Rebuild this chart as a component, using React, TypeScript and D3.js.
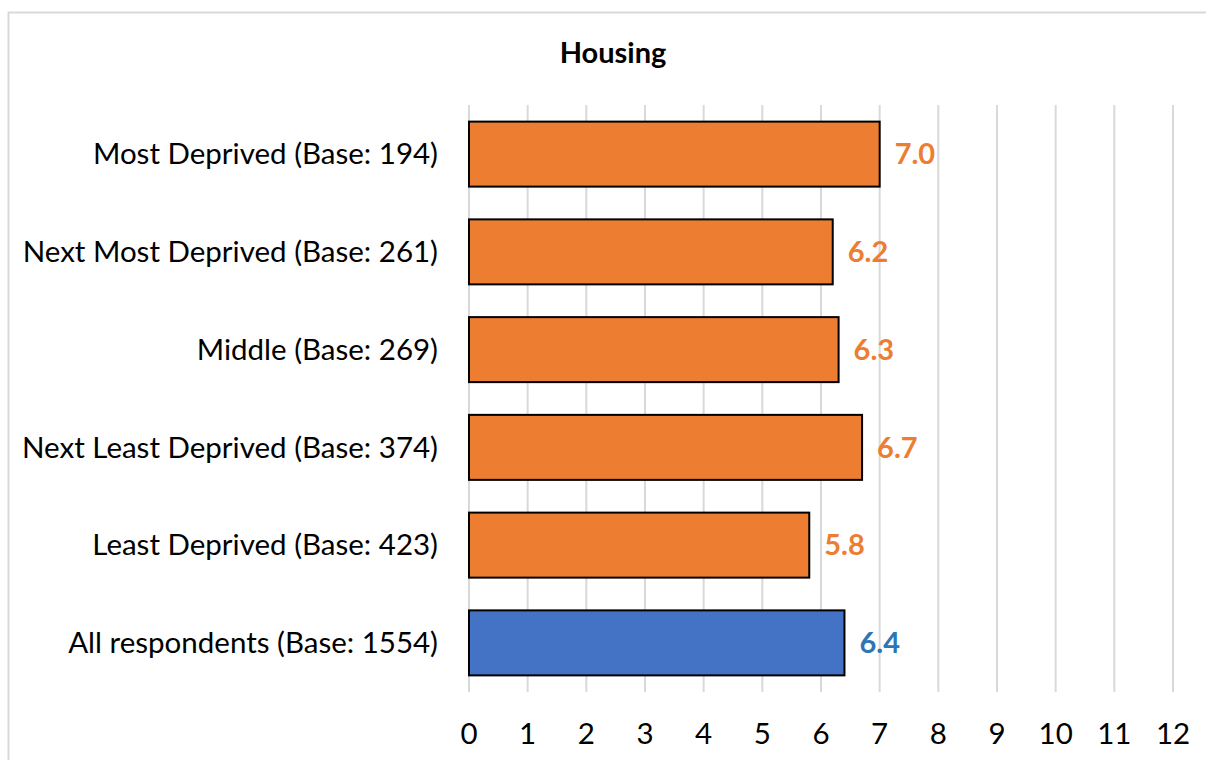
import React, { useEffect, useRef } from "react";
import * as d3 from "d3";

const width = 1206;
const height = 760;
const margin = { top: 105, right: 33, bottom: 68, left: 469 };

const categories = [
  "Most Deprived (Base: 194)",
  "Next Most Deprived (Base: 261)",
  "Middle (Base: 269)",
  "Next Least Deprived (Base: 374)",
  "Least Deprived (Base: 423)",
  "All respondents (Base: 1554)",
];
const values = [7.0, 6.2, 6.3, 6.7, 5.8, 6.4];
const xTicks = [0, 1, 2, 3, 4, 5, 6, 7, 8, 9, 10, 11, 12];

const font = "Lato, 'Open Sans', sans-serif";

export default function App() {
  const ref = useRef<SVGSVGElement>(null);

  useEffect(() => {
    const svg = d3.select(ref.current);
    svg.selectAll("*").remove();

    const data = categories.map((c, i) => ({ c, v: values[i], all: i === categories.length - 1 }));

    const x = d3
      .scaleLinear()
      .domain([0, 12])
      .range([margin.left, width - margin.right]);

    const y = d3
      .scaleBand()
      .domain(categories)
      .range([margin.top, height - margin.bottom])
      .paddingInner(0.335)
      .paddingOuter(0.17);

    // outer frame
    svg
      .append("rect")
      .attr("x", 8.5)
      .attr("y", 12.5)
      .attr("width", 1220)
      .attr("height", 800)
      .attr("fill", "none")
      .attr("stroke", "#d9d9d9")
      .attr("stroke-width", 2);

    svg
      .append("text")
      .attr("x", 613)
      .attr("y", 53)
      .attr("dy", "0.35em")
      .attr("text-anchor", "middle")
      .attr("font-family", font)
      .attr("font-weight", "bold")
      .attr("font-size", 29)
      .attr("fill", "#000")
      .text("Housing");

    // gridlines
    svg
      .append("g")
      .selectAll("line")
      .data(xTicks)
      .join("line")
      .attr("x1", d => x(d))
      .attr("x2", d => x(d))
      .attr("y1", margin.top)
      .attr("y2", height - margin.bottom)
      .attr("stroke", "#d9d9d9")
      .attr("stroke-width", 2);

    // x tick labels
    svg
      .append("g")
      .selectAll("text")
      .data(xTicks)
      .join("text")
      .attr("x", d => x(d))
      .attr("y", 734)
      .attr("dy", "0.35em")
      .attr("text-anchor", "middle")
      .attr("font-family", font)
      .attr("font-size", 29.5)
      .attr("fill", "#000")
      .text(d => d);

    // category labels
    svg
      .append("g")
      .selectAll("text")
      .data(data)
      .join("text")
      .attr("x", 438)
      .attr("y", d => y(d.c)! + y.bandwidth() / 2)
      .attr("dy", "0.35em")
      .attr("text-anchor", "end")
      .attr("font-family", font)
      .attr("font-size", 29.5)
      .attr("fill", "#000")
      .text(d => d.c);

    // bars
    svg
      .append("g")
      .selectAll("rect")
      .data(data)
      .join("rect")
      .attr("x", x(0))
      .attr("y", d => y(d.c)!)
      .attr("width", d => x(d.v) - x(0))
      .attr("height", y.bandwidth())
      .attr("fill", d => (d.all ? "#4472c4" : "#ed7d31"))
      .attr("stroke", "#000")
      .attr("stroke-width", 2);

    // value labels
    svg
      .append("g")
      .selectAll("text")
      .data(data)
      .join("text")
      .attr("x", d => x(d.v) + 15)
      .attr("y", d => y(d.c)! + y.bandwidth() / 2)
      .attr("dy", "0.35em")
      .attr("font-family", font)
      .attr("font-weight", "bold")
      .attr("font-size", 29)
      .attr("fill", d => (d.all ? "#2e75b6" : "#ed7d31"))
      .text(d => d3.format(".1f")(d.v));
  }, []);

  return (
    <svg
      ref={ref}
      width={width}
      height={height}
      style={{ position: "absolute", left: 0, top: 0, background: "#fff" }}
    />
  );
}
